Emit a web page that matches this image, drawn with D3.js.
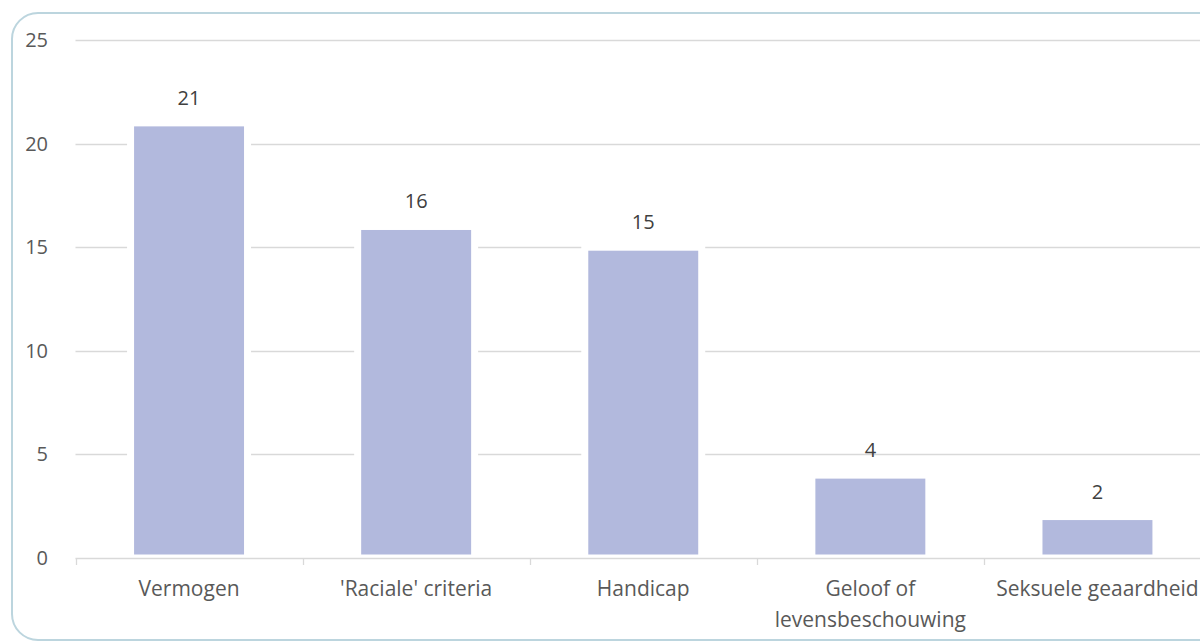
<!DOCTYPE html>
<html><head><meta charset="utf-8">
<script src="https://cdn.jsdelivr.net/npm/d3@7"></script>
<style>html,body{margin:0;padding:0;background:#fff;}svg{display:block;}</style>
</head><body>
<svg id="c" width="1200" height="643"></svg>
<script>
const categories = ["Vermogen", "'Raciale' criteria", "Handicap", "Geloof of\nlevensbeschouwing", "Seksuele geaardheid"];
const values = [21, 16, 15, 4, 2];
const yTicks = [0, 5, 10, 15, 20, 25];

const svg = d3.select("#c");
const font = "'Open Sans', sans-serif";
const fs = 21;

svg.append("rect").attr("x", 12).attr("y", 13).attr("width", 1230).attr("height", 627)
  .attr("rx", 26).attr("ry", 26).attr("fill", "#fff").attr("stroke", "#bcd5de").attr("stroke-width", 2);

const x = d3.scaleBand().domain(categories).range([75.5, 1211]).paddingInner(0.485).paddingOuter(0.2425);
const y = d3.scaleLinear().domain([0, 25]).range([558, 40]);

// gridlines
svg.append("g").selectAll("line").data(yTicks.filter(d => d > 0)).join("line")
  .attr("x1", 75.5).attr("x2", 1211).attr("y1", d => Math.round(y(d)) + 0.5).attr("y2", d => Math.round(y(d)) + 0.5)
  .attr("stroke", "#d9d9d9").attr("stroke-width", 1.3);

// y tick labels
svg.append("g").selectAll("text").data(yTicks).join("text")
  .attr("x", 48).attr("y", d => y(d)).attr("dy", "0.35em").attr("text-anchor", "end")
  .attr("font-family", font).attr("font-size", 20).attr("fill", "#595959").text(d => d);

// bars
svg.append("g").selectAll("rect").data(values).join("rect")
  .attr("x", (d, i) => x(categories[i])).attr("width", x.bandwidth())
  .attr("y", d => y(d)).attr("height", d => y(0) - y(d))
  .attr("fill", "#b2b9dd").attr("stroke", "#fff").attr("stroke-width", 7);

// x axis line and ticks
svg.append("line").attr("x1", 75.5).attr("x2", 1211).attr("y1", 558.5).attr("y2", 558.5)
  .attr("stroke", "#d9d9d9").attr("stroke-width", 1.3);
const bounds = categories.map(c => x(c) - x.step() * x.paddingInner() / 2);
bounds.push(1211);
svg.append("g").selectAll("line").data(bounds).join("line")
  .attr("x1", d => Math.round(d) + 0.5).attr("x2", d => Math.round(d) + 0.5)
  .attr("y1", 558).attr("y2", 565).attr("stroke", "#d9d9d9").attr("stroke-width", 1.3);

// value labels
svg.append("g").selectAll("text").data(values).join("text")
  .attr("x", (d, i) => x(categories[i]) + x.bandwidth() / 2).attr("y", d => y(d) - 18)
  .attr("text-anchor", "middle").attr("font-family", font).attr("font-size", 20).attr("fill", "#404040")
  .text(d => d);

// category labels
const cl = svg.append("g").selectAll("text").data(categories).join("text")
  .attr("x", c => x(c) + x.bandwidth() / 2).attr("y", 596)
  .attr("text-anchor", "middle").attr("font-family", font).attr("font-size", fs).attr("fill", "#595959");
cl.each(function(c) {
  const lines = c.split("\n");
  const t = d3.select(this);
  lines.forEach((l, i) => {
    t.append("tspan").attr("x", x(c) + x.bandwidth() / 2).attr("dy", i === 0 ? 0 : 31).text(l);
  });
});
</script>
</body></html>
